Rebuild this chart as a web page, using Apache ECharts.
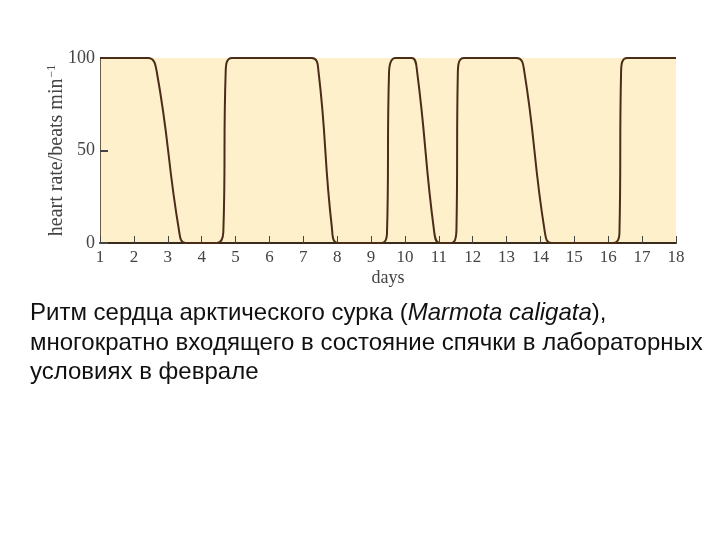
<!DOCTYPE html>
<html>
<head>
<meta charset="utf-8">
<script src="https://cdn.jsdelivr.net/npm/echarts@6/dist/echarts.min.js"></script>
<style>html,body{margin:0;padding:0;background:#fff;}#c{width:720px;height:540px;}</style>
</head>
<body>
<div id="c"></div>
<script>
// Data
var days = [1, 2.42, 2.68, 3.33, 3.52, 4.45, 4.64, 4.71, 4.9,
            7.25, 7.45, 7.84, 8.03, 9.31, 9.47, 9.53, 9.72,
            10.2, 10.36, 10.85, 11.02, 11.38, 11.52, 11.56, 11.74,
            13.3, 13.52, 14.12, 14.33, 16.15, 16.33, 16.38, 16.56, 18];
var heartRate = [100, 100, 92, 7, 0, 0, 6, 93, 100,
                 100, 92.5, 9, 0, 0, 5, 92, 100,
                 100, 92.5, 8, 0, 0, 7, 91, 100,
                 100, 93, 7, 0, 0, 5, 93, 100, 100];
var xTicks = [1, 18, 1];   // min, max, interval
var yTicks = [0, 100, 50]; // min, max, interval
var xName = 'days';
var yName = 'heart rate/beats min';
var captionLines = [
  ['Ритм сердца арктического сурка (', 'Marmota caligata', '),'],
  ['многократно входящего в состояние спячки в лабораторных'],
  ['условиях в феврале']
];

var pts = days.map(function (d, i) { return [d, heartRate[i]]; });
var cap = '{n|' + captionLines[0][0] + '}{i|' + captionLines[0][1] + '}{n|' + captionLines[0][2] + '}\n' +
          '{n|' + captionLines[1][0] + '}\n{n|' + captionLines[2][0] + '}';

var chart = echarts.init(document.getElementById('c'));
chart.setOption({
  animation: false,
  backgroundColor: '#ffffff',
  title: {
    text: cap,
    left: 30, top: 299, padding: 0,
    textStyle: {
      fontWeight: 'normal',
      rich: {
        n: { fontFamily: 'Liberation Sans', fontSize: 24, fontWeight: 'normal', color: '#111', lineHeight: 29.5 },
        i: { fontFamily: 'Liberation Sans', fontSize: 24, fontWeight: 'normal', fontStyle: 'italic', color: '#111', lineHeight: 29.5 }
      }
    }
  },
  grid: {
    left: 100, right: 44, top: 58, height: 185,
    show: true, backgroundColor: '#fdf0cb', borderWidth: 0
  },
  xAxis: {
    type: 'value', min: xTicks[0], max: xTicks[1], interval: xTicks[2],
    name: xName, nameLocation: 'middle', nameGap: 26,
    nameTextStyle: { fontFamily: 'Liberation Serif', fontSize: 18, color: '#444' },
    axisLine: { show: true, lineStyle: { color: '#3a2a1c', width: 2 } },
    axisTick: { show: true, inside: true, length: 7, lineStyle: { color: '#444', width: 1 } },
    axisLabel: { margin: 6, fontFamily: 'Liberation Serif', fontSize: 17, color: '#444' },
    splitLine: { show: false }
  },
  yAxis: {
    type: 'value', min: yTicks[0], max: yTicks[1], interval: yTicks[2],
    name: '{a|' + yName + '}{s|−1}', nameLocation: 'middle', nameGap: 32,
    nameMoveOverlap: false,
    nameTextStyle: {
      rich: {
        a: { fontFamily: 'Liberation Serif', fontSize: 20, color: '#444' },
        s: { fontFamily: 'Liberation Serif', fontSize: 12, color: '#444', verticalAlign: 'top', padding: [0, 0, 10, 1] }
      }
    },
    axisLine: { show: true, lineStyle: { color: '#6b5b45', width: 1 } },
    axisTick: { show: true, inside: true, length: 8, lineStyle: { color: '#444', width: 2 } },
    axisLabel: { margin: 5, fontFamily: 'Liberation Serif', fontSize: 18, color: '#444' },
    splitLine: { show: false }
  },
  series: [{
    type: 'line',
    data: pts,
    smooth: 0.45,
    showSymbol: false,
    lineStyle: { color: '#4a2c17', width: 2 }
  }]
});
</script>
</body>
</html>
